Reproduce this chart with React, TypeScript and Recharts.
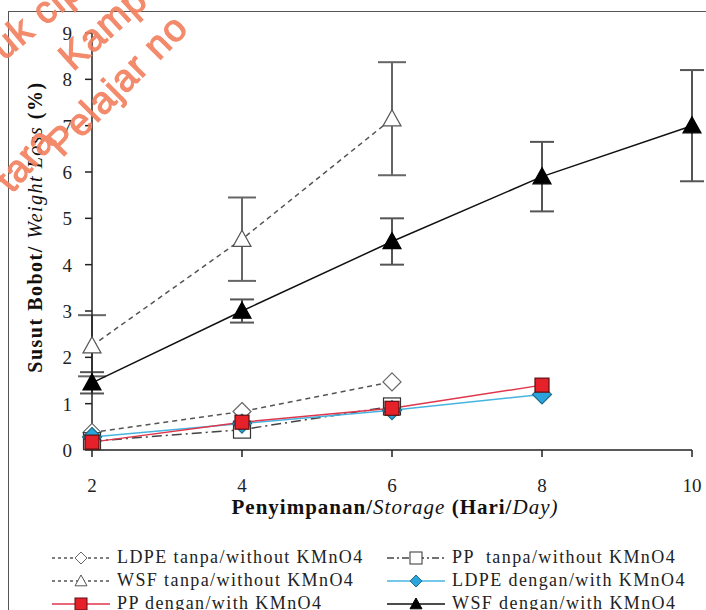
import React from "react"
import { LineChart, Line, XAxis, YAxis, ErrorBar } from "recharts"

// Susut bobot (%) per hari penyimpanan
const days = [2, 4, 6, 8, 10]
const ldpeTanpa = [0.38, 0.83, 1.47, null, null]
const ppTanpa = [0.19, 0.44, 0.94, null, null]
const wsfTanpa = [2.25, 4.55, 7.15, null, null]
const ldpeDengan = [0.28, 0.57, 0.86, 1.2, null]
const ppDengan = [0.17, 0.6, 0.9, 1.4, null]
const wsfDengan = [1.45, 3.0, 4.5, 5.9, 7.0]
const wsfTanpaErr = [0.66, 0.9, 1.22, null, null]
const wsfDenganErr = [0.23, 0.25, 0.5, 0.75, 1.2]

const yTicks = [0, 1, 2, 3, 4, 5, 6, 7, 8, 9]
const xTicks = [2, 4, 6, 8, 10]

const legendLabels = [
  "LDPE tanpa/without KMnO4",
  "PP  tanpa/without KMnO4",
  "WSF tanpa/without KMnO4",
  "LDPE dengan/with KMnO4",
  "PP dengan/with KMnO4",
  "WSF dengan/with KMnO4",
]

const data = days.map((day, i) => ({
  day,
  ldpeTanpa: ldpeTanpa[i],
  ppTanpa: ppTanpa[i],
  wsfTanpa: wsfTanpa[i],
  ldpeDengan: ldpeDengan[i],
  ppDengan: ppDengan[i],
  wsfDengan: wsfDengan[i],
  wsfTanpaErr: wsfTanpaErr[i],
  wsfDenganErr: wsfDenganErr[i],
}))

const serif = "Liberation Serif, Times New Roman, serif"

function Marker({ shape, cx, cy, size, fill, stroke, sw = 1.2 }: any) {
  const h = size / 2
  if (shape === "diamond") {
    return <polygon points={`${cx},${cy - h} ${cx + h},${cy} ${cx},${cy + h} ${cx - h},${cy}`} fill={fill} stroke={stroke} strokeWidth={sw} />
  }
  if (shape === "square") {
    return <rect x={cx - h} y={cy - h} width={size} height={size} fill={fill} stroke={stroke} strokeWidth={sw} />
  }
  return <polygon points={`${cx},${cy - h} ${cx + h},${cy + h * 0.8} ${cx - h},${cy + h * 0.8}`} fill={fill} stroke={stroke} strokeWidth={sw} />
}

const styles = [
  { key: "ldpeTanpa", shape: "diamond", size: 18, fill: "#fff", stroke: "#666", line: "#555", dash: "5 4", width: 1.5 },
  { key: "ppTanpa", shape: "square", size: 17, fill: "#fff", stroke: "#333", line: "#444", dash: "10 4 2 4", width: 1.5 },
  { key: "wsfTanpa", shape: "triangle", size: 18, fill: "#fff", stroke: "#555", line: "#555", dash: "5 4", width: 1.5 },
  { key: "ldpeDengan", shape: "diamond", size: 19, fill: "#2ba3dc", stroke: "#1e6e86", line: "#46b4e0", dash: undefined, width: 1.5 },
  { key: "ppDengan", shape: "square", size: 14, fill: "#e62129", stroke: "#5a1010", line: "#e0364c", dash: undefined, width: 1.5 },
  { key: "wsfDengan", shape: "triangle", size: 18, fill: "#000", stroke: "#000", line: "#111", dash: undefined, width: 1.5 },
]

const makeDot = (s: any) => (props: any) => {
  const { cx, cy, index } = props
  if (cx == null || cy == null || isNaN(cx) || isNaN(cy)) return <g key={`e-${s.key}-${index}`} />
  return (
    <g key={`d-${s.key}-${index}`}>
      <Marker shape={s.shape} cx={cx} cy={cy} size={s.size} fill={s.fill} stroke={s.stroke} />
    </g>
  )
}

// draw order so red squares end up on top
const order = ["wsfTanpa", "wsfDengan", "ldpeTanpa", "ppTanpa", "ldpeDengan", "ppDengan"]

function XTick({ x, y, payload }: any) {
  return (
    <text x={x} y={y} dy="0.71em" textAnchor="middle" fontFamily={serif} fontSize={19} fill="#222">
      {payload.value}
    </text>
  )
}

function YTick({ x, y, payload }: any) {
  return (
    <text x={x} y={y} dy="0.36em" textAnchor="end" fontFamily={serif} fontSize={19} fill="#222">
      {payload.value}
    </text>
  )
}

function LegendItem({ s, label }: any) {
  return (
    <div style={{ display: "flex", alignItems: "center", height: 23 }}>
      <svg width={62} height={20} style={{ flex: "none" }}>
        <line x1={2} y1={10} x2={60} y2={10} stroke={s.line} strokeWidth={1.3} strokeDasharray={s.dash ? (s.dash === "10 4 2 4" ? "7 3 2 3" : "3 3") : undefined} />
        <Marker shape={s.shape} cx={31} cy={10} size={12} fill={s.fill} stroke={s.stroke} sw={1} />
      </svg>
      <span style={{ marginLeft: 5, whiteSpace: "pre", fontSize: 18, letterSpacing: 1.4, color: "#222" }}>{label}</span>
    </div>
  )
}

export default function App() {
  return (
    <div style={{ position: "absolute", left: 0, top: 0, width: 706, height: 610, overflow: "hidden", background: "#fff", fontFamily: serif }}>
      <div style={{ position: "absolute", left: 8, top: 11, width: 720, height: 620, borderTop: "1.5px solid #555", borderLeft: "1.5px solid #555" }} />
      <div style={{ position: "absolute", left: 0, top: 0 }}>
        <LineChart width={706} height={610} data={data} margin={{ top: 33, right: 14, bottom: 120, left: 32 }}>
          <XAxis
            dataKey="day"
            type="number"
            domain={[2, 10]}
            ticks={xTicks}
            height={40}
            tickSize={7}
            tickMargin={22}
            tick={<XTick />}
            axisLine={{ stroke: "#222", strokeWidth: 1.5 }}
            tickLine={{ stroke: "#222", strokeWidth: 1.5 }}
          />
          <YAxis
            type="number"
            domain={[0, 9]}
            ticks={yTicks}
            width={60}
            tickSize={7}
            tickMargin={13}
            tick={<YTick />}
            axisLine={{ stroke: "#222", strokeWidth: 1.5 }}
            tickLine={{ stroke: "#222", strokeWidth: 1.5 }}
          />
          {order.map((k) => {
            const s = styles.find((x) => x.key === k)!
            return (
              <Line
                key={k}
                dataKey={k}
                type="linear"
                stroke={s.line}
                strokeWidth={s.width}
                strokeDasharray={s.dash}
                dot={makeDot(s)}
                activeDot={false}
                connectNulls={false}
                isAnimationActive={false}
              >
                {k === "wsfTanpa" && (
                  <ErrorBar dataKey="wsfTanpaErr" width={14} stroke="#666" strokeWidth={2} direction="y" isAnimationActive={false} />
                )}
                {k === "wsfDengan" && (
                  <ErrorBar dataKey="wsfDenganErr" width={12} stroke="#555" strokeWidth={2} direction="y" isAnimationActive={false} />
                )}
              </Line>
            )
          })}
        </LineChart>
      </div>

      <svg width={706} height={610} style={{ position: "absolute", left: 0, top: 0, pointerEvents: "none" }}>
        <text
          x={35}
          y={227}
          transform="rotate(-90, 35, 227)"
          textAnchor="middle"
          dominantBaseline="central"
          fontFamily={serif}
          fontSize={20}
          letterSpacing={1.5}
          fill="#111"
        >
          <tspan fontWeight="bold">Susut Bobot/ </tspan>
          <tspan fontStyle="italic">Weight Loss</tspan>
          <tspan fontWeight="bold"> (%)</tspan>
        </text>
        <text x={395} y={507} textAnchor="middle" dominantBaseline="central" fontFamily={serif} fontSize={21} letterSpacing={1} fill="#111">
          <tspan fontWeight="bold">Penyimpanan/</tspan>
          <tspan fontStyle="italic">Storage</tspan>
          <tspan fontWeight="bold"> (Hari/</tspan>
          <tspan fontStyle="italic">Day</tspan>
          <tspan fontStyle="italic">)</tspan>
        </text>
        <g fontFamily="Liberation Sans, Arial, sans-serif" fontSize={38} letterSpacing={1} fill="#f2805f" stroke="#f2805f" strokeWidth={1.2} opacity={0.92}>
          <text x={4} y={61} transform="rotate(-40, 4, 61)">uk cipta</text>
          <text x={73} y={72} transform="rotate(-42, 73, 72)">Kampus</text>
          <text x={57} y={141} textAnchor="end" transform="rotate(-50, 57, 141)">tara</text>
          <text x={62} y={158} transform="rotate(-45, 62, 158)">Pelajar no</text>
        </g>
      </svg>

      <div style={{ position: "absolute", left: 50, top: 546, display: "grid", gridTemplateColumns: "335px 320px" }}>
        {styles.map((s, i) => (
          <LegendItem key={s.key} s={s} label={legendLabels[i]} />
        ))}
      </div>
    </div>
  )
}
